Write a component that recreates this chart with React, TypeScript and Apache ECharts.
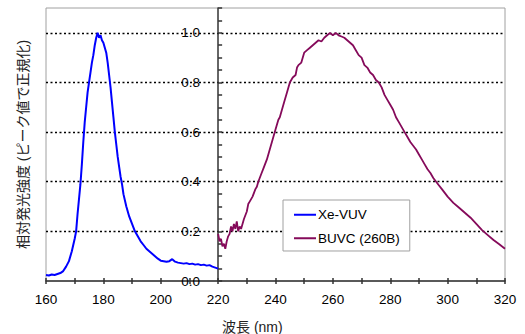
import React, { useEffect, useRef } from "react";
import * as echarts from "echarts";

const xTicks = [160, 180, 200, 220, 240, 260, 280, 300, 320];
const yTicks = [0, 0.2, 0.4, 0.6, 0.8, 1.0];

const xeWavelength = [
  160, 161, 162, 163, 164, 165, 166, 167, 168, 169, 170, 170.5, 171, 171.5, 172, 172.5, 173, 173.5, 174, 174.5,
  175, 175.5, 176, 176.5, 177, 177.5, 178, 178.5, 179, 179.5, 180, 180.5, 181, 181.5, 182, 182.5, 183, 183.5,
  184, 184.5, 185, 185.5, 186, 186.5, 187, 188, 189, 190, 191, 192, 193, 194, 195, 196, 197, 198, 199, 200,
  201, 202, 203, 204, 205, 206, 207, 208, 209, 210, 211, 212, 213, 214, 215, 216, 217, 218, 219, 220,
];
const xeValues = [
  0.024, 0.022, 0.026, 0.024, 0.028, 0.032, 0.04, 0.058, 0.08, 0.12, 0.17, 0.2, 0.27, 0.33, 0.39, 0.47, 0.56, 0.64, 0.7, 0.76,
  0.8, 0.84, 0.88, 0.91, 0.95, 0.98, 1.0, 0.98, 0.99, 0.97, 0.96, 0.94, 0.92, 0.88, 0.83, 0.78, 0.72, 0.66,
  0.6, 0.55, 0.5, 0.46, 0.42, 0.39, 0.35, 0.3, 0.26, 0.23, 0.2, 0.18, 0.16, 0.145, 0.13, 0.12, 0.11, 0.1, 0.09, 0.082,
  0.08, 0.078, 0.08, 0.088, 0.078, 0.074, 0.072, 0.07, 0.072, 0.068, 0.07, 0.066, 0.068, 0.064, 0.066, 0.062, 0.064, 0.058, 0.054, 0.05,
];

const buvcWavelength = [
  220, 220.5, 221, 221.5, 222, 222.5, 223, 223.5, 224, 224.5, 225, 225.5, 226, 226.5, 227, 227.5, 228, 228.5, 229, 230,
  230.5, 231, 232, 233, 233.5, 234, 235, 236, 237, 238, 239, 240, 241, 241.5, 242, 243, 244, 245, 246, 247,
  247.5, 248, 249, 250, 251, 252, 253, 254, 255, 256, 257, 258, 259, 260, 261, 262, 263, 264, 265, 266,
  267, 268, 269, 270, 271, 272, 273, 274, 275, 276, 277, 278, 279, 280, 281, 282, 283, 284, 285, 286,
  287, 288, 289, 290, 291, 292, 293, 294, 295, 296, 297, 298, 299, 300, 302, 304, 306, 308, 310, 312,
  314, 316, 318, 320,
];
const buvcValues = [
  0.19, 0.16, 0.17, 0.14, 0.15, 0.13, 0.16, 0.18, 0.19, 0.22, 0.2, 0.23, 0.21, 0.24, 0.2, 0.22, 0.21, 0.23, 0.25, 0.28,
  0.31, 0.32, 0.34, 0.37, 0.38, 0.4, 0.43, 0.46, 0.49, 0.53, 0.57, 0.61, 0.65, 0.66, 0.68, 0.72, 0.76, 0.8, 0.82, 0.83,
  0.86, 0.87, 0.88, 0.92, 0.93, 0.94, 0.95, 0.96, 0.97, 0.965, 0.98, 0.99, 1.0, 0.99, 1.0, 0.99, 0.985, 0.98, 0.97, 0.96,
  0.95, 0.93, 0.91, 0.9, 0.87, 0.86, 0.84, 0.83, 0.81, 0.8, 0.78, 0.75, 0.73, 0.71, 0.69, 0.66, 0.64, 0.62, 0.6, 0.58,
  0.56, 0.545, 0.53, 0.51, 0.49, 0.47, 0.45, 0.435, 0.415, 0.4, 0.385, 0.37, 0.355, 0.34, 0.315, 0.295, 0.275, 0.255, 0.23, 0.205,
  0.185, 0.165, 0.148, 0.13,
];

const FONT = "'Liberation Sans', 'Noto Sans CJK JP', sans-serif";

export default function App() {
  const ref = useRef<HTMLDivElement>(null);
  useEffect(() => {
    if (!ref.current) return;
    const chart = echarts.init(ref.current, undefined, { renderer: "svg" });
    const xMin = xTicks[0];
    const xMax = xTicks[xTicks.length - 1];
    const gridLeft = 46;
    const gridRight = 20;
    const gridW = 525 - gridLeft - gridRight;
    const yAxisX = gridLeft + ((220 - xMin) / (xMax - xMin)) * gridW;
    chart.setOption({
      animation: false,
      textStyle: { fontFamily: FONT },
      grid: [
        { left: gridLeft, right: gridRight, top: 8, bottom: 53, show: true, borderColor: "#a0a0a0", borderWidth: 1, backgroundColor: "#fff" },
        { left: yAxisX, right: gridRight, top: 8, bottom: 53, show: false },
      ],
      xAxis: [
        {
          type: "value", gridIndex: 0, min: xMin, max: xMax, interval: 20,
          axisLine: { show: true, lineStyle: { color: "#333", width: 1.5 } },
          axisTick: { show: true, inside: false, length: 3, lineStyle: { color: "#333", width: 1.5 } },
          minorTick: { show: true, splitNumber: 2, length: 3, lineStyle: { color: "#333", width: 1.5 } },
          axisLabel: { color: "#000", fontSize: 13.5, margin: 12, fontFamily: FONT },
          splitLine: { show: false },
        },
        {
          type: "value", gridIndex: 0, position: "bottom", min: xMin, max: xMax, interval: 20,
          axisLine: { show: false },
          axisTick: { show: true, inside: true, length: 3, lineStyle: { color: "#333", width: 1.5 } },
          minorTick: { show: true, splitNumber: 2, length: 3, lineStyle: { color: "#333", width: 1.5 } },
          axisLabel: { show: false },
          splitLine: { show: false },
        },
        {
          type: "value", gridIndex: 1, min: 220, max: xMax, show: false,
        },
      ],
      yAxis: [
        {
          type: "value", gridIndex: 0, min: 0, max: 1.1, interval: 0.2,
          name: "相対発光強度 (ピーク値で正規化)", nameLocation: "middle", nameGap: 16, nameRotate: 90,
          nameTextStyle: { color: "#222", fontSize: 14, fontFamily: FONT },
          axisLine: { show: false }, axisTick: { show: false }, axisLabel: { show: false },
          splitLine: { show: true, showMinLine: false, showMaxLine: false, lineStyle: { color: "#000", type: [2, 2.5], width: 1.4 } },
        },
        {
          type: "value", gridIndex: 1, position: "left", min: 0, max: 1.1, interval: 0.05,
          axisLine: { show: true, lineStyle: { color: "#333", width: 1.5 } },
          axisTick: { show: true, inside: true, length: 4, lineStyle: { color: "#333", width: 1.5 } },
          axisLabel: {
            color: "#000", fontSize: 13.5, margin: 18, fontFamily: FONT,
            formatter: (v: number) => {
              const r = Math.round(v * 100);
              return yTicks.some((t) => Math.round(t * 100) === r) ? (r / 100).toFixed(1) : "";
            },
          },
          splitLine: { show: false },
        },
      ],
      legend: {
        left: 283, top: 200, orient: "vertical",
        backgroundColor: "#fff", borderColor: "#a0a0a0", borderWidth: 1,
        padding: [8, 10, 6, 11], itemGap: 10, itemWidth: 22, itemHeight: 2,
        icon: "rect",
        textStyle: { fontSize: 13.5, color: "#000", fontFamily: FONT, padding: [0, 0, 0, -3] },
        data: ["Xe-VUV", "BUVC (260B)"],
      },
      graphic: [
        {
          type: "text", left: 222, top: 320,
          style: { text: "波長 (nm)", fontSize: 14, fill: "#222", fontFamily: FONT },
        },
      ],
      series: [
        {
          name: "Xe-VUV", type: "line", xAxisIndex: 0, yAxisIndex: 0, showSymbol: false,
          lineStyle: { color: "#0000ff", width: 2 }, itemStyle: { color: "#0000ff" },
          data: xeWavelength.map((w, i) => [w, xeValues[i]]),
          z: 3,
        },
        {
          name: "BUVC (260B)", type: "line", xAxisIndex: 0, yAxisIndex: 0, showSymbol: false,
          lineStyle: { color: "#850a5a", width: 1.8 }, itemStyle: { color: "#850a5a" },
          data: buvcWavelength.map((w, i) => [w, buvcValues[i]]),
          z: 3,
        },
      ],
    });
    return () => chart.dispose();
  }, []);
  return <div ref={ref} style={{ position: "absolute", left: 0, top: 0, width: 525, height: 334 }} />;
}
